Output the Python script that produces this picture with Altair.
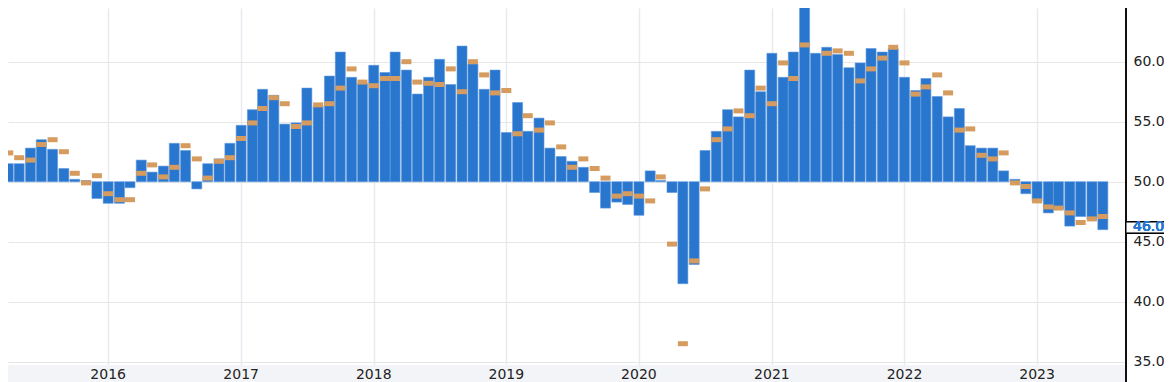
import altair as alt
import pandas as pd

# ---- data (monthly release dates) ----
start_month = "2015-04-01"
actual = [
    51.5, 51.5, 52.8, 53.5, 52.7, 51.1, 50.2, 50.1, 48.6,                    # 2015 Apr-Dec
    48.2, 48.2, 49.5, 51.8, 50.8, 51.3, 53.2, 52.6, 49.4, 51.5, 51.9, 53.2,  # 2016
    54.7, 56.0, 57.7, 57.2, 54.8, 54.9, 57.8, 56.3, 58.8, 60.8, 58.7, 58.2,  # 2017
    59.7, 59.1, 60.8, 59.3, 57.3, 58.7, 60.2, 58.1, 61.3, 59.8, 57.7, 59.3,  # 2018
    54.1, 56.6, 54.2, 55.3, 52.8, 52.1, 51.7, 51.2, 49.1, 47.8, 48.3, 48.1,  # 2019
    47.2, 50.9, 50.1, 49.1, 41.5, 43.1, 52.6, 54.2, 56.0, 55.4, 59.3, 57.5,  # 2020
    60.7, 58.7, 60.8, 64.7, 60.7, 61.2, 60.6, 59.5, 59.9, 61.1, 60.8, 61.1,  # 2021
    58.7, 57.6, 58.6, 57.1, 55.4, 56.1, 53.0, 52.8, 52.8, 50.9, 50.2, 49.0,  # 2022
    48.4, 47.4, 47.7, 46.3, 47.1, 46.9, 46.0,                                # 2023 Jan-Jul
]
forecast = [
    52.4, 52.0, 51.8, 53.1, 53.5, 52.5, 50.7, 49.9, 50.5,
    49.0, 48.5, 48.5, 50.7, 51.4, 50.4, 51.2, 53.0, 51.9, 50.3, 51.7, 52.0,
    53.6, 54.9, 56.1, 57.0, 56.5, 54.6, 54.9, 56.4, 56.5, 57.8, 59.4, 58.3,
    58.0, 58.6, 58.6, 60.0, 58.3, 58.2, 58.1, 59.4, 57.5, 60.0, 58.9, 57.4,
    57.6, 54.0, 55.5, 54.3, 54.9, 52.9, 51.2, 51.9, 51.1, 50.3, 48.8, 49.0,
    48.8, 48.4, 50.4, 44.8, 36.5, 43.4, 49.4, 53.5, 54.4, 55.9, 55.5, 57.8,
    56.5, 59.9, 58.6, 61.4, 64.9, 60.7, 60.9, 60.7, 58.4, 59.4, 60.3, 61.2,
    59.9, 57.3, 57.9, 58.9, 57.4, 54.3, 54.4, 52.2, 51.9, 52.4, 49.9, 49.6,
    48.4, 47.9, 47.8, 47.4, 46.6, 46.9, 47.1,
]
year_ticks = list(range(2016, 2024))
y_ticks = [35, 40, 45, 50, 55, 60, 65]
baseline = 50

dates = pd.date_range(start_month, periods=len(actual), freq="MS").strftime("%Y-%m-%d").tolist()
df = pd.DataFrame({"date": dates, "actual": actual, "forecast": forecast})
years_df = pd.DataFrame({"date": [f"{y}-01-01" for y in year_ticks], "label": [str(y) for y in year_ticks]})
latest_label = f"{actual[-1]:.1f}"

BLUE = "#2976cf"
ORANGE = "#d69b5f"
FONT = "DejaVu Sans"
W, H = 1118, 357

xscale = alt.Scale(
    type="utc",
    domain=[alt.DateTime(year=2015, month=4, date=14, utc=True),
            alt.DateTime(year=2023, month=8, date=20, utc=True)],
)
yscale = alt.Scale(domain=[34.725, 64.475], nice=False, zero=False)

xaxis = alt.Axis(
    values=[alt.DateTime(year=y, month=1, date=1, utc=True) for y in year_ticks],
    labels=False, ticks=False, domain=False, grid=True,
    gridColor="#e8eaf0", gridWidth=1.5, title=None,
)
yaxis = alt.Axis(
    orient="right", values=y_ticks, format=".1f",
    domain=False, ticks=False, grid=True,
    gridColor="#e6e6e6", gridWidth=1,
    labelFont=FONT, labelFontSize=14, labelColor="#222222",
    labelPadding=7, title=None,
)

X = alt.X("date:T", scale=xscale, axis=xaxis, title=None)

band = alt.Chart(years_df).mark_rect(color="#f3f4f8", clip=False).encode(
    x=alt.value(0), x2=alt.value(W), y=alt.value(H), y2=alt.value(H + 20)
)

bars = alt.Chart(df).mark_bar(
    width=10, color=BLUE, stroke="#5c97dd", strokeWidth=0.6, clip=True
).encode(
    x=X,
    y=alt.Y("actual:Q", scale=yscale, axis=yaxis, title=None),
    y2=alt.datum(baseline),
)

ticks = alt.Chart(df).mark_tick(
    orient="horizontal", size=10, thickness=5, color=ORANGE, opacity=1, clip=True
).encode(
    x=X,
    y=alt.Y("forecast:Q", scale=yscale, axis=yaxis, title=None),
)

year_labels = alt.Chart(years_df).mark_text(
    font=FONT, fontSize=14, color="#222222", baseline="middle", align="center", clip=False
).encode(
    x=X, y=alt.value(H + 10), text="label:N"
)

axis_line = alt.Chart(years_df).mark_rule(color="#111111", strokeWidth=1.2, clip=False).encode(
    x=alt.value(W), y=alt.value(0), y2=alt.value(H + 20)
)

box = alt.Chart(years_df).mark_rect(fill="white", stroke="black", strokeWidth=1, clip=False).encode(
    x=alt.value(W), x2=alt.value(W + 60),
    y=alt.YDatum(46.64, scale=yscale, axis=yaxis, title=None), y2=alt.datum(45.73),
)

last_text = alt.Chart(years_df).mark_text(
    font=FONT, fontSize=14, color=BLUE, align="left", baseline="middle", clip=False
).encode(
    x=alt.value(W + 7),
    y=alt.YDatum(46.2, scale=yscale, axis=yaxis, title=None),
    text=alt.value(latest_label),
)

chart = alt.layer(band, bars, ticks, year_labels, axis_line, box, last_text).properties(
    width=W, height=H,
    padding={"left": 0, "top": 0, "right": 38, "bottom": 17},
    autosize=alt.AutoSizeParams(type="none"),
).configure_view(strokeWidth=0)

chart.save("out.html", embed_options={"renderer": "svg", "actions": False})
